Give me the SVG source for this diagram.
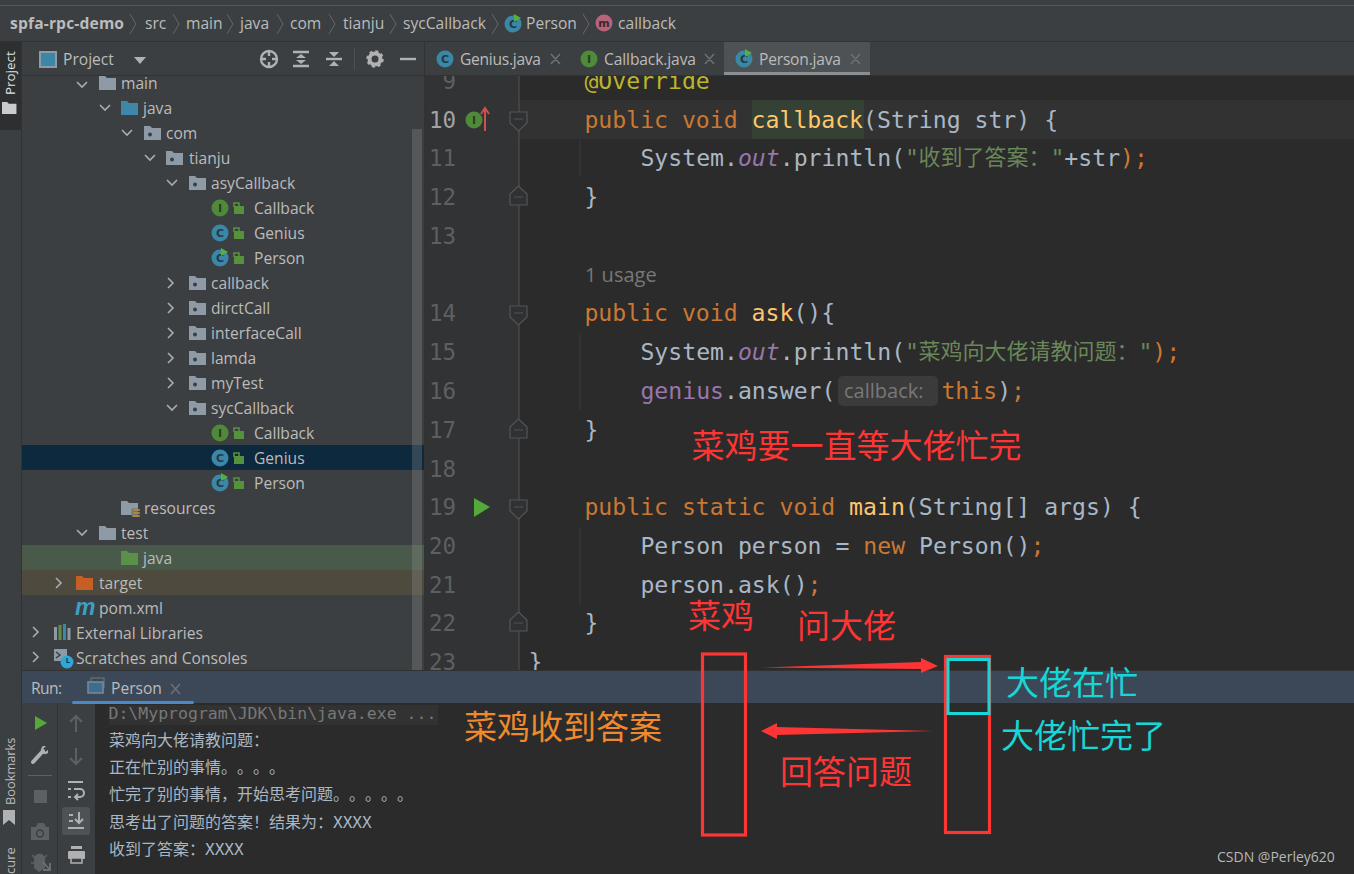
<svg xmlns="http://www.w3.org/2000/svg" width="1354" height="874" viewBox="0 0 1354 874">
<style>
text{white-space:pre}
.ui{font-family:"Open Sans","Noto Sans","Noto Sans CJK SC",sans-serif;font-size:15.6px;fill:#bbbbbb}
.m{font-family:"DejaVu Sans Mono","Liberation Mono","Noto Sans CJK SC",monospace;font-size:23.15px;fill:#a9b7c6}
.ln{font-family:"DejaVu Sans Mono","Liberation Mono",monospace;font-size:22.5px;fill:#5d6062;text-anchor:end}
.k{fill:#cc7832}.f{fill:#ffc66d}.v{fill:#9876aa}.fi{font-style:italic}.s{fill:#6a8759}
.cj{font-family:"Noto Sans CJK SC",sans-serif;font-size:22px;text-spacing-trim:space-all;font-feature-settings:"chws" 0}
.con{font-family:"DejaVu Sans Mono","Noto Sans CJK SC",monospace;font-size:16px;fill:#a9b7c6;text-spacing-trim:space-all;font-feature-settings:"chws" 0}
.an{font-family:"Noto Sans CJK SC",sans-serif;font-size:33px}
.red{fill:#fd3535}.cy{fill:#17d6d6}.or{fill:#f0892c}
.box{fill:none;stroke:#fd3535;stroke-width:3.2}
.chev{fill:none;stroke:#a8adb0;stroke-width:1.6}
.ic{font-family:"DejaVu Sans",sans-serif;font-size:11px;font-weight:bold;text-anchor:middle}
.tool{fill:none;stroke:#afb1b3;stroke-width:2}
.hdr{fill:none;stroke:#afb1b3;stroke-width:2.4}
.off{fill:#5d6062}
.gut{fill:#2f3133;stroke:#555;stroke-width:1.2}
</style>
<defs>
<path id="fp" d="M0 -7H6L8 -5H17V7H0Z"/>
<g id="pk"><use href="#fp" fill="#8e9ba6"/><circle cx="6" cy="1.500" r="2" fill="#3c3f41"/></g>
<g id="clsI"><circle r="8.500" fill="#4f8a3a"/><text class="ic" y="4" fill="#2b3d22">I</text></g>
<g id="clsC"><circle r="8.500" fill="#3a87a8"/><text class="ic" y="4" fill="#243a47">C</text></g>
<g id="clsR"><use href="#clsC"/><path d="M0 -9V-1L7 -5Z" fill="#55b03c" transform="translate(1 -1)"/></g>
<g id="lock"><rect x="-4" y="-2" width="10" height="8" fill="#56913d"/><path d="M-4 -1V-5H1V-2" fill="none" stroke="#56913d" stroke-width="1.600"/></g>
<path id="down" class="chev" d="M-5 -3L0 2L5 -3"/>
<path id="right" class="chev" d="M-3 -5L2 0L-3 5"/>
</defs>

<rect width="1354" height="874" fill="#3c3f41"/>

<g id="editor">
<rect x="425" y="72" width="929" height="600" fill="#2b2b2b"/>
<rect x="425" y="72" width="94" height="600" fill="#313335"/>
<rect x="519" y="100" width="835" height="39" fill="#323232"/>
<rect x="752" y="100" width="112" height="39" fill="#344134"/>
<line x1="519" y1="72" x2="519" y2="672" stroke="#555"/>
<line x1="580" y1="140" x2="580" y2="177" stroke="#3b3b3b"/>
<line x1="580" y1="333" x2="580" y2="410" stroke="#3b3b3b"/>
<line x1="580" y1="527" x2="580" y2="604" stroke="#3b3b3b"/>
<g transform="translate(0 .2)">
<text class="ln" x="456" y="89">9</text>
<text class="ln" x="456" y="127.500" style="fill:#a4a3a3">10</text>
<text class="ln" x="456" y="166">11</text>
<text class="ln" x="456" y="205">12</text>
<text class="ln" x="456" y="244">13</text>
<text class="ln" x="456" y="321">14</text>
<text class="ln" x="456" y="360">15</text>
<text class="ln" x="456" y="398.500">16</text>
<text class="ln" x="456" y="437.500">17</text>
<text class="ln" x="456" y="476.500">18</text>
<text class="ln" x="456" y="515">19</text>
<text class="ln" x="456" y="554">20</text>
<text class="ln" x="456" y="593">21</text>
<text class="ln" x="456" y="631">22</text>
<text class="ln" x="456" y="670">23</text>
</g>
<use href="#clsI" x="474" y="120"/>
<path d="M485 131V110M481 114L485 108L489 114" fill="none" stroke="#d04f4f" stroke-width="2"/>
<path d="M474 498L490 507L474 517Z" fill="#55a83a"/>
<path class="gut" d="M510 112H527V123L518.500 131L510 123Z M514 119H523"/>
<path class="gut" d="M510 306H527V317L518.500 325L510 317Z M514 313H523"/>
<path class="gut" d="M510 500H527V511L518.500 519L510 511Z M514 507H523"/>
<path class="gut" d="M510 205H527V194L518.500 186L510 194Z M514 197H523"/>
<path class="gut" d="M510 438H527V427L518.500 419L510 427Z M514 430H523"/>
<path class="gut" d="M510 631H527V620L518.500 612L510 620Z M514 623H523"/>
<g transform="translate(-.6 .2)">
<text class="m" x="585" y="89" style="fill:#bbb529">@Override</text>
<text class="m" x="585" y="127.500"><tspan class="k">public void </tspan><tspan class="f">callback</tspan>(String str) {</text>
<text class="m" x="641" y="166">System.<tspan class="v fi">out</tspan>.println(<tspan class="s">"</tspan></text>
<text class="m s cj" x="919" y="165">收到了答案：</text>
<text class="m" x="1051" y="166"><tspan class="s">"</tspan>+str<tspan class="k">);</tspan></text>
<text class="m" x="585" y="205">}</text>
<text class="ui" x="585.600" y="282" style="fill:#787878;font-size:20px">1 usage</text>
<text class="m" x="585" y="321"><tspan class="k">public void </tspan><tspan class="f">ask</tspan>(){</text>
<text class="m" x="641" y="360">System.<tspan class="v fi">out</tspan>.println(<tspan class="s">"</tspan></text>
<text class="m s cj" x="919" y="359">菜鸡向大佬请教问题：</text>
<text class="m" x="1139" y="360"><tspan class="s">"</tspan><tspan class="k">);</tspan></text>
<text class="m" x="641" y="398.500"><tspan class="v">genius</tspan>.answer(</text>
</g>
<rect x="838" y="376" width="100" height="30" rx="5" fill="#3b3b3b"/>
<text class="ui" x="844" y="398" style="fill:#787878;font-size:20px">callback:</text>
<g transform="translate(-.6 .2)">
<text class="m" x="942" y="398.500"><tspan class="k">this</tspan>)<tspan class="k">;</tspan></text>
<text class="m" x="585" y="437.500">}</text>
<text class="m" x="585" y="515"><tspan class="k">public static void </tspan><tspan class="f">main</tspan>(String[] args) {</text>
<text class="m" x="641" y="554">Person person = <tspan class="k">new </tspan>Person()<tspan class="k">;</tspan></text>
<text class="m" x="641" y="593">person.ask()<tspan class="k">;</tspan></text>
<text class="m" x="585" y="631">}</text>
<text class="m" x="529" y="670">}</text>
</g>
</g>

<g id="project-tree">
<rect x="22" y="75" width="402" height="596" fill="#3c3f41"/>
<rect x="424" y="42" width="1" height="629" fill="#323232"/>
<rect x="22" y="445" width="402" height="25" fill="#0d293e"/>
<rect x="22" y="545" width="402" height="25" fill="#49594a"/>
<rect x="22" y="570" width="402" height="25" fill="#4e4a3e"/>
<rect x="412" y="129" width="10" height="541" fill="#9a9a9a" fill-opacity=".27"/>
<use href="#down" x="82" y="85"/><use href="#fp" x="99" y="83" fill="#8e9ba6"/><text class="ui" x="121" y="89">main</text>
<use href="#down" x="105" y="108"/><use href="#fp" x="121" y="108" fill="#3f87a8"/><text class="ui" x="143" y="114">java</text>
<use href="#down" x="127" y="133"/><use href="#pk" x="144" y="133"/><text class="ui" x="166" y="139">com</text>
<use href="#down" x="150" y="158"/><use href="#pk" x="166" y="158"/><text class="ui" x="189" y="164">tianju</text>
<use href="#down" x="172" y="183"/><use href="#pk" x="189" y="183"/><text class="ui" x="211" y="189">asyCallback</text>
<use href="#clsI" x="220" y="208"/><use href="#lock" x="238" y="208"/><text class="ui" x="254" y="214">Callback</text>
<use href="#clsC" x="220" y="233"/><use href="#lock" x="238" y="233"/><text class="ui" x="254" y="239">Genius</text>
<use href="#clsR" x="220" y="258"/><use href="#lock" x="238" y="258"/><text class="ui" x="254" y="264">Person</text>
<use href="#right" x="171" y="283"/><use href="#pk" x="189" y="283"/><text class="ui" x="211" y="289">callback</text>
<use href="#right" x="171" y="308"/><use href="#pk" x="189" y="308"/><text class="ui" x="211" y="314">dirctCall</text>
<use href="#right" x="171" y="333"/><use href="#pk" x="189" y="333"/><text class="ui" x="211" y="339">interfaceCall</text>
<use href="#right" x="171" y="358"/><use href="#pk" x="189" y="358"/><text class="ui" x="211" y="364">lamda</text>
<use href="#right" x="171" y="383"/><use href="#pk" x="189" y="383"/><text class="ui" x="211" y="389">myTest</text>
<use href="#down" x="172" y="408"/><use href="#pk" x="189" y="408"/><text class="ui" x="211" y="414">sycCallback</text>
<use href="#clsI" x="220" y="433"/><use href="#lock" x="238" y="433"/><text class="ui" x="254" y="439">Callback</text>
<use href="#clsC" x="220" y="458"/><use href="#lock" x="238" y="458"/><text class="ui" x="254" y="464">Genius</text>
<use href="#clsR" x="220" y="483"/><use href="#lock" x="238" y="483"/><text class="ui" x="254" y="489">Person</text>
<use href="#fp" x="121" y="508" fill="#8e9ba6"/><path d="M132 509h8v2h-8zM132 512h8v2h-8zM132 515h8v2h-8z" fill="#c9a04a" stroke="#3c3f41" stroke-width=".5"/><text class="ui" x="144" y="514">resources</text>
<use href="#down" x="82" y="533"/><use href="#fp" x="99" y="533" fill="#8e9ba6"/><text class="ui" x="121" y="539">test</text>
<use href="#fp" x="121" y="558" fill="#5c8f47"/><text class="ui" x="143" y="564">java</text>
<use href="#right" x="59" y="583"/><use href="#fp" x="76" y="583" fill="#c75f25"/><text class="ui" x="99" y="589">target</text>
<text x="75" y="615" style="font-family:'Liberation Sans',sans-serif;font-size:23px;font-weight:bold;font-style:italic;fill:#3f9fc4">m</text><text class="ui" x="99" y="614">pom.xml</text>
<use href="#right" x="36" y="632"/><g fill="#8e9ba6"><rect x="54" y="627" width="3" height="13"/><rect x="58.500" y="625" width="3" height="15" fill="#5c8f47"/><rect x="63" y="624" width="3" height="16" fill="#3f87a8"/><rect x="67.500" y="628" width="3" height="12"/></g><text class="ui" x="76" y="639">External Libraries</text>
<use href="#right" x="36" y="657"/><path d="M54 649H67V661H54Z" fill="#8e9ba6"/><path d="M56 652l4 3l-4 3" fill="none" stroke="#3c3f41" stroke-width="1.500"/><circle cx="67" cy="662" r="6.500" fill="#2fa8d8"/><path d="M67 658v4.500h3" fill="none" stroke="#12384a" stroke-width="1.200"/><text class="ui" x="76" y="664">Scratches and Consoles</text>
</g>

<g id="breadcrumb">
<rect width="1354" height="41" fill="#3c3f41"/>
<rect y="5" width="1354" height="1" fill="#555"/>
<rect y="41" width="1354" height="1" fill="#323232"/>
<text class="ui" x="10" y="29" style="font-weight:700" textLength="114">spfa-rpc-demo</text>
<text class="ui" x="145" y="29">src</text>
<text class="ui" x="186" y="29">main</text>
<text class="ui" x="240" y="29">java</text>
<text class="ui" x="290" y="29">com</text>
<text class="ui" x="343" y="29">tianju</text>
<text class="ui" x="403" y="29">sycCallback</text>
<use href="#clsR" x="513" y="24"/>
<text class="ui" x="526" y="29">Person</text>
<circle cx="604" cy="23" r="8.500" fill="#b5647a"/><text class="ic" x="604" y="27" fill="#3c2730">m</text>
<text class="ui" x="618" y="29">callback</text>
<path class="chev" style="stroke:#666;stroke-width:1" d="M130 14l6 10l-6 10M173 14l6 10l-6 10M227 14l6 10l-6 10M277 14l6 10l-6 10M329 14l6 10l-6 10M390 14l6 10l-6 10M492 14l6 10l-6 10M583 14l6 10l-6 10"/>
</g>

<g id="project-header">
<rect x="22" y="42" width="402" height="33" fill="#3c3f41"/>
<line x1="22" y1="75.500" x2="425" y2="75.500" stroke="#323232"/>
<rect x="40" y="52" width="16" height="15" fill="#3a87a8" stroke="#8e9ba6" stroke-width="2"/>
<text class="ui" x="63" y="65">Project</text>
<path d="M134 57H146L140 64Z" fill="#afb1b3"/>
<circle cx="269" cy="59" r="8" class="hdr"/><path class="hdr" d="M269 51V56M269 62V67M261 59H266M272 59H277"/>
<path class="hdr" d="M293 52H309M293 66H309"/><path d="M301 54L306 58H296ZM301 64L306 60H296Z" fill="#afb1b3"/>
<path class="hdr" d="M326 59H342"/><path d="M334 57L339 52H329ZM334 61L339 66H329Z" fill="#afb1b3"/>
<line x1="354.500" y1="48" x2="354.500" y2="70" stroke="#4e5052"/>
<circle cx="375" cy="59" r="5.500" fill="none" stroke="#afb1b3" stroke-width="4"/>
<circle cx="375" cy="59" r="7.500" fill="none" stroke="#afb1b3" stroke-width="2.500" stroke-dasharray="3 2.900"/>
<path class="hdr" d="M400 59H416"/>
</g>

<g id="tabs">
<rect x="425" y="42" width="929" height="33" fill="#3c3f41"/>
<line x1="425" y1="75.500" x2="1354" y2="75.500" stroke="#323232"/>
<rect x="724" y="42" width="146" height="33" fill="#4e5254"/>
<rect x="724" y="72" width="146" height="3" fill="#8a8f93"/>
<use href="#clsC" x="445" y="59"/><text class="ui" x="460" y="65" textLength="81">Genius.java</text>
<use href="#clsI" x="589" y="59"/><text class="ui" x="604" y="65" textLength="92">Callback.java</text>
<use href="#clsR" x="744" y="59"/><text class="ui" x="759" y="65" textLength="82">Person.java</text>
<path stroke="#6e7173" stroke-width="1.500" d="M551 54l9 10M560 54l-9 10M705 54l9 10M714 54l-9 10M851 54l9 10M860 54l-9 10"/>
</g>

<g id="side-strip">
<rect y="42" width="22" height="832" fill="#3c3f41"/>
<rect y="42" width="22" height="88" fill="#2d2f30"/>
<line x1="21.500" y1="42" x2="21.500" y2="874" stroke="#323232"/>
<text class="ui" transform="translate(15 95) rotate(-90)" style="fill:#dfe1e5;font-size:13.400px">Project</text>
<use href="#fp" transform="translate(2 108) scale(.85)" fill="#c9cbcd"/>
<text class="ui" transform="translate(15 805) rotate(-90)" style="font-size:12.800px">Bookmarks</text>
<path d="M3 810H15V825L9 820L3 825Z" fill="#afb1b3"/>
<text class="ui" transform="translate(15 874) rotate(-90)" style="font-size:13px">cure</text>
</g>

<g id="run-panel">
<rect x="22" y="671" width="1332" height="32" fill="#3c4858"/>
<line x1="22" y1="670.500" x2="1354" y2="670.500" stroke="#323232"/>
<rect x="22" y="703" width="73" height="171" fill="#3c3f41"/>
<line x1="57.500" y1="703" x2="57.500" y2="874" stroke="#323232"/>
<rect x="95" y="703" width="1259" height="171" fill="#2b2b2b"/>
<text class="ui" x="31" y="694" textLength="31">Run:</text>
<rect x="91" y="678" width="13" height="10" fill="none" stroke="#6e7a84"/>
<rect x="88" y="682" width="15" height="11" fill="#3a6f8f" stroke="#7c8a95" stroke-width="1.500"/>
<text class="ui" x="111" y="694">Person</text>
<path stroke="#6e7173" stroke-width="1.500" d="M171 684l9 10M180 684l-9 10"/>
<rect x="72" y="701" width="122" height="3" rx="1.500" fill="#4a88c7"/>
<rect x="109" y="705" width="329" height="20" fill="#323232"/>
<text class="con" x="108.500" y="719" style="font-size:16.500px;fill:#787878">D:\Myprogram\JDK\bin\java.exe ...</text>
<text class="con" x="109" y="746">菜鸡向大佬请教问题：</text>
<text class="con" x="109" y="773">正在忙别的事情。。。。</text>
<text class="con" x="109" y="800">忙完了别的事情，开始思考问题。。。。。</text>
<text class="con" x="109" y="828">思考出了问题的答案！结果为：XXXX</text>
<text class="con" x="109" y="855">收到了答案：XXXX</text>
<path d="M35 716L47 723L35 730Z" fill="#55a83a"/>
<path d="M33 762L43 751" stroke="#afb1b3" stroke-width="4" stroke-linecap="round"/><path d="M42 753a5 5 0 0 1 1 -7l3 0l-3 3l2 3l3 -2l0 3a5 5 0 0 1 -6 0Z" fill="#afb1b3"/>
<line x1="28" y1="775.500" x2="52" y2="775.500" stroke="#5d6062"/>
<rect x="34" y="790" width="13" height="13" class="off"/>
<path class="off" d="M31 827H36L38 823H44L46 827H49V840H31Z"/><circle cx="40" cy="833.500" r="3.500" fill="none" stroke="#3c3f41" stroke-width="1.500"/>
<path class="off" d="M34 858a6 7 0 0 1 11 0L45 868L39 872L34 868Z"/><path d="M32 855l3 3M47 855l-3 3M31 863h3" stroke="#5d6062" stroke-width="1.500"/><path d="M43 862L50 870M50 863V870H43" fill="none" stroke="#6e7173" stroke-width="1.800"/>
<path class="tool" style="stroke:#5d6062" d="M76 716V732M70 722L76 716L82 722M76 748V764M70 758L76 764L82 758"/>
<path class="tool" d="M68 782H83M74 789H80a4 4 0 0 1 0 8H76M68 789H71M68 797H71M78 794L75 797L78 800"/>
<rect x="62" y="807" width="28" height="28" rx="3" fill="#4e5254"/>
<path class="tool" d="M69 815H73M69 821H73M68 828H84M79 812V823M75 819L79 823L83 819"/>
<rect x="68" y="851" width="17" height="8" rx="1" fill="#afb1b3"/><rect x="71" y="846" width="11" height="3" fill="#afb1b3"/><rect x="71" y="858" width="11" height="5" fill="#3c3f41" stroke="#afb1b3" stroke-width="1.500"/>
</g>

<g id="node-caiji">
<rect class="box" x="702.500" y="654" width="43" height="181"/>
<text class="an red" x="688" y="628">菜鸡</text>
</g>
<g id="node-dalao">
<rect class="box" x="945.500" y="656.500" width="44" height="176"/>
<rect x="948" y="659.500" width="41" height="54" fill="none" stroke="#17d6d6" stroke-width="3"/>
<text class="an cy" x="1006" y="695">大佬在忙</text>
<text class="an cy" x="1001" y="748">大佬忙完了</text>
</g>
<g id="connectors">
<path class="red" d="M760 667.500L921 662V658L938 666L921 673V669Z"/>
<path class="red" d="M933 731L777 735V739L761 731L777 723V727Z"/>
</g>
<g id="labels">
<text class="an red" x="691.500" y="458">菜鸡要一直等大佬忙完</text>
<text class="an red" x="797" y="638">问大佬</text>
<text class="an or" x="464" y="739">菜鸡收到答案</text>
<text class="an red" x="780" y="784">回答问题</text>
</g>
<text x="1217" y="862" style="font-family:'Open Sans',sans-serif;font-size:14px;fill:#b8b8b8">CSDN @Perley620</text>
</svg>
